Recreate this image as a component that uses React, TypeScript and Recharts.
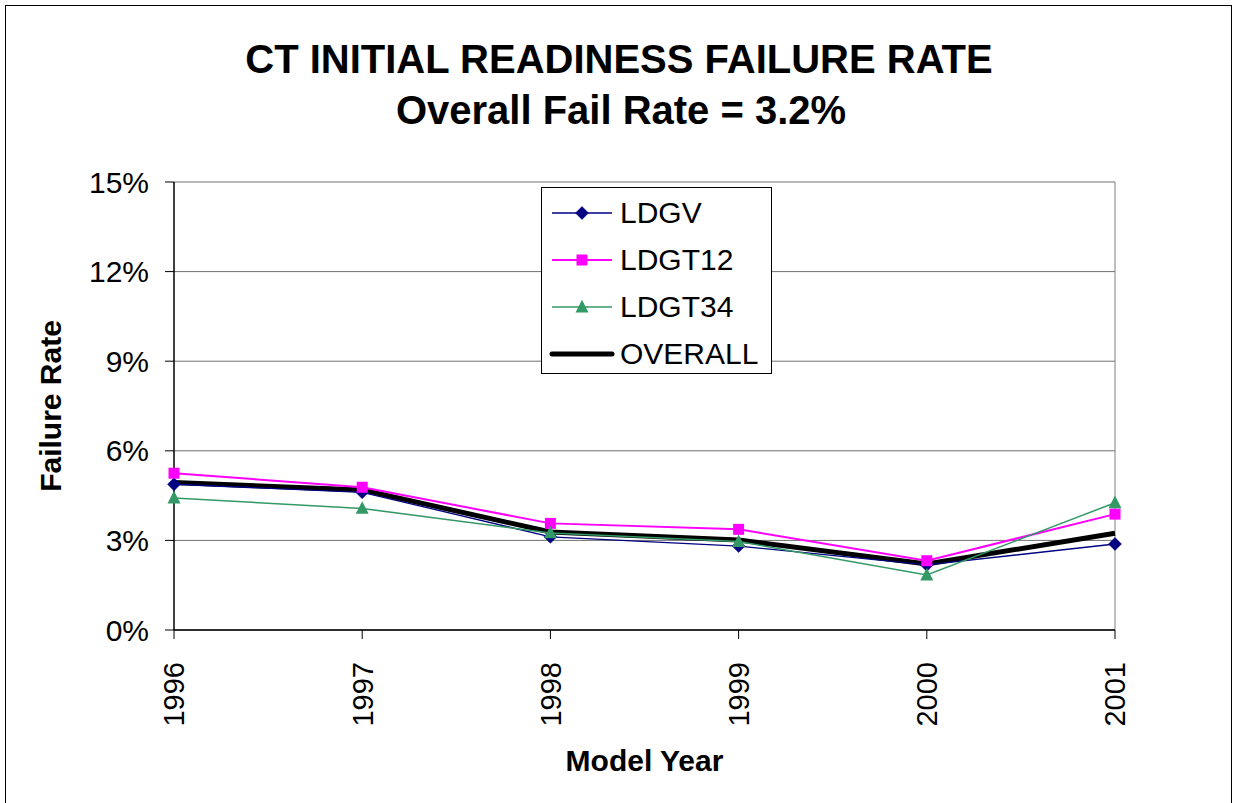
import React from 'react';
import { LineChart, Line, XAxis, YAxis, CartesianGrid, Legend, ReferenceLine, Label } from 'recharts';

const years = ['1996', '1997', '1998', '1999', '2000', '2001'];
const ldgv = [4.88, 4.61, 3.12, 2.81, 2.18, 2.88];
const ldgt12 = [5.25, 4.78, 3.57, 3.37, 2.32, 3.88];
const ldgt34 = [4.42, 4.07, 3.25, 2.96, 1.84, 4.26];
const overall = [4.94, 4.69, 3.28, 3.01, 2.21, 3.24];
const yTicks = [0, 3, 6, 9, 12, 15];
const seriesOrder = ['LDGV', 'LDGT12', 'LDGT34', 'OVERALL'];
const titleLine1 = 'CT INITIAL READINESS FAILURE RATE';
const titleLine2 = 'Overall Fail Rate = 3.2%';

const data = years.map((y, i) => ({
  year: y,
  LDGV: ldgv[i],
  LDGT12: ldgt12[i],
  LDGT34: ldgt34[i],
  OVERALL: overall[i],
}));

const FONT = '"Liberation Sans", Arial, Helvetica, sans-serif';
const NAVY = '#000080';
const MAGENTA = '#FF00FF';
const GREEN = '#339966';

const markerPath = (kind: string, cx: number, cy: number): React.ReactNode => {
  if (kind === 'diamond') {
    const r = 6.5;
    return <polygon points={`${cx},${cy - r} ${cx + r},${cy} ${cx},${cy + r} ${cx - r},${cy}`} fill={NAVY} stroke={NAVY} strokeWidth={0.5} />;
  }
  if (kind === 'square') {
    const h = 5.5;
    return <rect x={cx - h} y={cy - h} width={2 * h} height={2 * h} fill={MAGENTA} />;
  }
  if (kind === 'triangle') {
    const w = 6.5;
    const h = 12;
    return <polygon points={`${cx},${cy - h * 0.6} ${cx + w},${cy + h * 0.45} ${cx - w},${cy + h * 0.45}`} fill={GREEN} />;
  }
  return null;
};

const makeDot = (kind: string) => (props: any) => {
  const { cx, cy, index } = props;
  if (cx == null || cy == null) return <g key={`d-${kind}-${index}`} />;
  return <g key={`d-${kind}-${index}`}>{markerPath(kind, cx, cy)}</g>;
};

const XTick = (props: any) => {
  const { x, y, payload } = props;
  return (
    <text
      x={x}
      y={y}
      transform={`rotate(-90, ${x}, ${y})`}
      textAnchor="end"
      dy="0.36em"
      fontSize={29}
      fontFamily={FONT}
      fill="#000"
    >
      {payload.value}
    </text>
  );
};

const legendStyle: Record<string, { color: string; width: number; kind: string }> = {
  LDGV: { color: NAVY, width: 1.3, kind: 'diamond' },
  LDGT12: { color: MAGENTA, width: 2, kind: 'square' },
  LDGT34: { color: GREEN, width: 1.5, kind: 'triangle' },
  OVERALL: { color: '#000', width: 5, kind: 'none' },
};

const LegendBox = (props: any) => {
  const payload = (props.payload || []).slice().sort(
    (a: any, b: any) => seriesOrder.indexOf(a.value) - seriesOrder.indexOf(b.value)
  );
  return (
    <div
      style={{
        width: 231,
        height: 187,
        boxSizing: 'border-box',
        border: '1px solid #000',
        background: '#fff',
        position: 'relative',
        fontFamily: FONT,
      }}
    >
      {payload.map((p: any, i: number) => {
        const st = legendStyle[p.value];
        const cy = 25 + i * 47;
        return (
          <div key={p.value} style={{ position: 'absolute', left: 0, top: cy - 20, height: 40, width: 229 }}>
            <svg width={75} height={40} style={{ position: 'absolute', left: 0, top: 0 }}>
              <line x1={10} y1={20} x2={70} y2={20} stroke={st.color} strokeWidth={st.width} strokeLinecap={st.kind === 'none' ? 'round' : 'butt'} />
              {markerPath(st.kind, 40, 20)}
            </svg>
            <span
              style={{
                position: 'absolute',
                left: 78,
                top: 0,
                lineHeight: '40px',
                fontSize: 30,
                color: '#000',
                whiteSpace: 'nowrap',
              }}
            >
              {p.value}
            </span>
          </div>
        );
      })}
    </div>
  );
};

const YLabel = (props: any) => {
  const vb = props.viewBox || {};
  const cy = (vb.y || 0) + (vb.height || 0) / 2;
  const cx = 50;
  return (
    <text
      x={cx}
      y={cy}
      transform={`rotate(-90, ${cx}, ${cy})`}
      textAnchor="middle"
      dy="0.36em"
      fontSize={30}
      fontWeight="bold"
      fontFamily={FONT}
      fill="#000"
    >
      Failure Rate
    </text>
  );
};

const XLabel = (props: any) => {
  const vb = props.viewBox || {};
  const cx = (vb.x || 0) + (vb.width || 0) / 2;
  return (
    <text x={cx} y={771} textAnchor="middle" fontSize={30} fontWeight="bold" fontFamily={FONT} fill="#000">
      Model Year
    </text>
  );
};

export default function App() {
  return (
    <div style={{ position: 'absolute', left: 0, top: 0, width: 1233, height: 803, background: '#fff', overflow: 'hidden', fontFamily: FONT }}>
      <div style={{ position: 'absolute', left: 5, top: 5, width: 1227, height: 900, border: '1px solid #000', boxSizing: 'border-box' }} />
      <svg width={1233} height={140} style={{ position: 'absolute', left: 0, top: 0 }}>
        <text x={619} y={73} textAnchor="middle" fontSize={40} fontWeight="bold" fontFamily={FONT} fill="#000">
          {titleLine1}
        </text>
        <text x={621} y={124} textAnchor="middle" fontSize={40} fontWeight="bold" fontFamily={FONT} fill="#000">
          {titleLine2}
        </text>
      </svg>
      <div style={{ position: 'absolute', left: 0, top: 0 }}>
        <LineChart width={1233} height={803} data={data} margin={{ top: 182, right: 118, bottom: 0, left: 0 }}>
          <CartesianGrid vertical={false} stroke="#707070" strokeWidth={1} />
          <ReferenceLine x="2001" stroke="#808080" strokeWidth={1} />
          <XAxis
            dataKey="year"
            height={173}
            tickSize={9}
            tickMargin={23}
            tick={<XTick />}
            interval={0}
            axisLine={{ stroke: '#000', strokeWidth: 1.5 }}
            tickLine={{ stroke: '#000', strokeWidth: 1 }}
          >
            <Label content={<XLabel />} />
          </XAxis>
          <YAxis
            width={174}
            domain={[0, 15]}
            ticks={yTicks}
            interval={0}
            tickSize={9}
            tickMargin={16}
            tickFormatter={(v: number) => `${v}%`}
            tick={{ fontSize: 30, fill: '#000', fontFamily: FONT }}
            axisLine={{ stroke: '#000', strokeWidth: 1.5 }}
            tickLine={{ stroke: '#000', strokeWidth: 1 }}
          >
            <Label content={<YLabel />} />
          </YAxis>
          <Legend
            layout="vertical"
            align="center"
            verticalAlign="middle"
            content={<LegendBox />}
            wrapperStyle={{ left: 541, top: 187, width: 231, height: 187 }}
          />
          <Line type="linear" dataKey="OVERALL" name="OVERALL" stroke="#000" strokeWidth={5} dot={false} isAnimationActive={false} />
          <Line type="linear" dataKey="LDGV" name="LDGV" stroke={NAVY} strokeWidth={1.3} dot={makeDot('diamond')} activeDot={false} isAnimationActive={false} />
          <Line type="linear" dataKey="LDGT12" name="LDGT12" stroke={MAGENTA} strokeWidth={2} dot={makeDot('square')} activeDot={false} isAnimationActive={false} />
          <Line type="linear" dataKey="LDGT34" name="LDGT34" stroke={GREEN} strokeWidth={1.5} dot={makeDot('triangle')} activeDot={false} isAnimationActive={false} />
        </LineChart>
      </div>
    </div>
  );
}
